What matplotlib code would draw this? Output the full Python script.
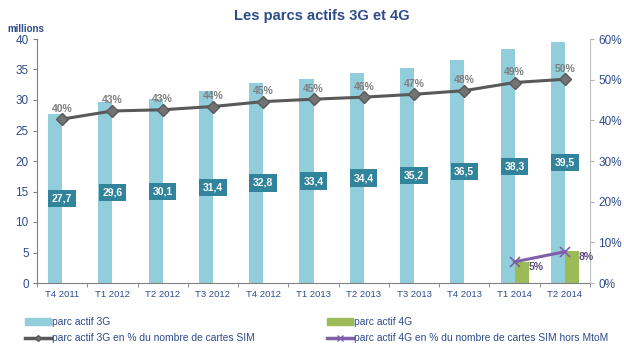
import matplotlib.pyplot as plt
import numpy as np
from matplotlib.lines import Line2D
from matplotlib.patches import Patch

plt.rcParams['font.family'] = ['Liberation Sans', 'DejaVu Sans']

# data
quarters = ['T4 2011', 'T1 2012', 'T2 2012', 'T3 2012', 'T4 2012', 'T1 2013',
            'T2 2013', 'T3 2013', 'T4 2013', 'T1 2014', 'T2 2014']
parc_3g = [27.7, 29.6, 30.1, 31.4, 32.8, 33.4, 34.4, 35.2, 36.5, 38.3, 39.5]
parc_4g = [None] * 9 + [3.4, 5.3]
pct_3g = [40.3, 42.3, 42.6, 43.4, 44.6, 45.2, 45.7, 46.4, 47.3, 49.3, 50.1]
pct_3g_labels = ['40%', '43%', '43%', '44%', '45%', '45%', '46%', '47%', '48%', '49%', '50%']
pct_4g = [None] * 9 + [5.2, 7.7]
pct_4g_labels = [None] * 9 + ['5%', '8%']

c3g = '#92CDDC'
c4g = '#9BBB59'
cline3 = '#595959'
cline4 = '#7F5FA8'
navy = '#2E4B8B'
teal = '#31849B'

x = np.arange(len(quarters))
w = 0.28

fig = plt.figure(figsize=(6.24, 3.52), dpi=100)
ax = fig.add_axes([37 / 624, 1 - 283 / 352, 553 / 624, 244 / 352])
ax2 = ax.twinx()

ax.bar(x - w / 2, parc_3g, w, color=c3g, zorder=2)
x4 = [i for i, v in enumerate(parc_4g) if v is not None]
ax.bar(np.array(x4) + w / 2, [parc_4g[i] for i in x4], w, color=c4g, zorder=2)

for i, v in enumerate(parc_3g):
    ax.text(i, v / 2, f'{v:.1f}'.replace('.', ','), ha='center', va='center',
            color='white', fontsize=7.5, fontweight='bold', zorder=5,
            bbox=dict(boxstyle='square,pad=0.35', fc=teal, ec='none'))

ax2.plot(x, pct_3g, color=cline3, lw=2.2, marker='D', ms=6,
         mfc='#737373', mec='#595959', zorder=4)
for i, v in enumerate(pct_3g):
    ax2.annotate(pct_3g_labels[i], (i, v), xytext=(0, 4), textcoords='offset points',
                 ha='center', va='bottom', color='#808080', fontsize=7.5,
                 fontweight='bold')

ax2.plot(x4, [pct_4g[i] for i in x4], color=cline4, lw=2.2, marker='x', ms=7,
         mew=1.2, zorder=4)
for i in x4:
    ax2.annotate(pct_4g_labels[i], (i, pct_4g[i]), xytext=(10, -4),
                 textcoords='offset points', ha='left', va='center',
                 color='#5B4A7A', fontsize=7.5, fontweight='bold')

ax.set_xlim(-0.5, len(quarters) - 0.5)
ax.set_ylim(0, 40)
ax2.set_ylim(0, 60)
ax.set_yticks(range(0, 41, 5))
ax2.set_yticks(range(0, 61, 10))
ax2.set_yticklabels([f'{v}%' for v in range(0, 61, 10)])

ax.set_xticks(x)
ax.set_xticklabels(quarters)
ax.set_xticks(np.arange(-0.5, len(quarters), 1), minor=True)
ax.tick_params(axis='x', which='major', length=0, labelsize=6.8, colors=navy, pad=5)
ax.tick_params(axis='x', which='minor', length=3, color='#808080')
ax.tick_params(axis='y', labelsize=8.5, colors=navy, length=3, color='#808080', pad=3)
ax2.tick_params(axis='y', labelsize=8.5, colors=navy, length=3, color='#B0B0B0', pad=3)

for a in (ax, ax2):
    a.spines['top'].set_visible(False)
ax.spines['left'].set_color('#808080')
ax.spines['bottom'].set_color('#808080')
ax2.spines['right'].set_color('#BFBFBF')
ax2.spines['left'].set_visible(False)
ax2.spines['bottom'].set_visible(False)
ax.spines['right'].set_visible(False)

fig.text(322 / 624, 1 - 16 / 352, 'Les parcs actifs 3G et 4G', ha='center', va='center',
         fontsize=10.5, fontweight='bold', color=navy)
fig.text(7 / 624, 1 - 29 / 352, 'millions', ha='left', va='center',
         fontsize=7, fontweight='bold', color=navy)

handles = [Patch(color=c3g),
           Line2D([], [], color=cline3, lw=2.5, marker='D', ms=3, mfc='#737373'),
           Patch(color=c4g),
           Line2D([], [], color=cline4, lw=2.5, marker='x', ms=4)]
labels = ['parc actif 3G', 'parc actif 3G en % du nombre de cartes SIM',
          'parc actif 4G', 'parc actif 4G en % du nombre de cartes SIM hors MtoM']
leg = fig.legend(handles, labels, ncol=2, loc='upper left',
                 bbox_to_anchor=(21 / 624, 1 - 313 / 352), frameon=False,
                 fontsize=7.4, handlelength=2.5, handleheight=0.7, handletextpad=0.15,
                 columnspacing=7.0, labelspacing=0.6, borderaxespad=0)
for t in leg.get_texts():
    t.set_color(navy)

fig.savefig('out.png', dpi=100)
